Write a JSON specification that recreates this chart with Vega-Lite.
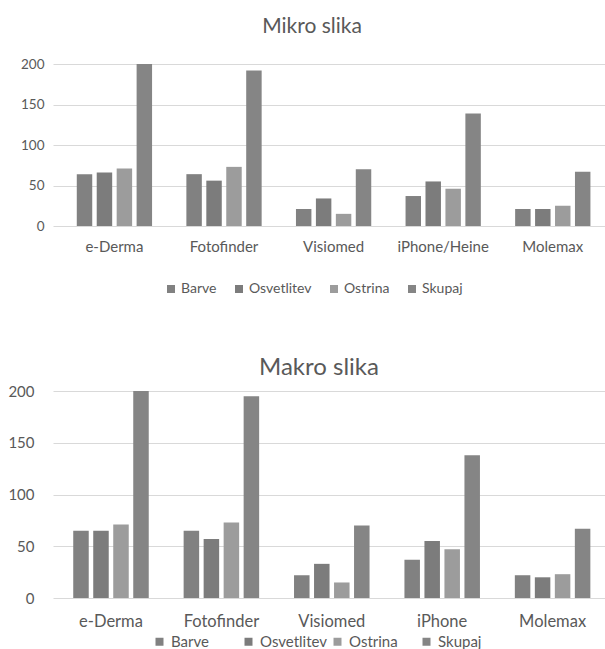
{
  "$schema": "https://vega.github.io/schema/vega-lite/v6.json",
  "padding": {"left": 0, "top": 16, "right": 0, "bottom": 0},
  "background": "white",
  "spacing": 60,
  "config": {
    "view": {"stroke": null},
    "font": "Lato",
    "axis": {"labelColor": "#595959", "labelFont": "Lato", "domain": false, "ticks": false, "title": null},
    "title": {"color": "#595959", "font": "Lato", "fontWeight": "normal", "anchor": "middle"},
    "legend": {"labelColor": "#595959", "labelFont": "Lato", "symbolType": "square", "symbolStrokeWidth": 0, "title": null}
  },
  "datasets": {
    "mikro": [
      {"naprava": "e-Derma", "kategorija": "Barve", "vrednost": 64},
      {"naprava": "e-Derma", "kategorija": "Osvetlitev", "vrednost": 66},
      {"naprava": "e-Derma", "kategorija": "Ostrina", "vrednost": 71},
      {"naprava": "e-Derma", "kategorija": "Skupaj", "vrednost": 200},
      {"naprava": "Fotofinder", "kategorija": "Barve", "vrednost": 64},
      {"naprava": "Fotofinder", "kategorija": "Osvetlitev", "vrednost": 56},
      {"naprava": "Fotofinder", "kategorija": "Ostrina", "vrednost": 73},
      {"naprava": "Fotofinder", "kategorija": "Skupaj", "vrednost": 192},
      {"naprava": "Visiomed", "kategorija": "Barve", "vrednost": 21},
      {"naprava": "Visiomed", "kategorija": "Osvetlitev", "vrednost": 34},
      {"naprava": "Visiomed", "kategorija": "Ostrina", "vrednost": 15},
      {"naprava": "Visiomed", "kategorija": "Skupaj", "vrednost": 70},
      {"naprava": "iPhone/Heine", "kategorija": "Barve", "vrednost": 37},
      {"naprava": "iPhone/Heine", "kategorija": "Osvetlitev", "vrednost": 55},
      {"naprava": "iPhone/Heine", "kategorija": "Ostrina", "vrednost": 46},
      {"naprava": "iPhone/Heine", "kategorija": "Skupaj", "vrednost": 139},
      {"naprava": "Molemax", "kategorija": "Barve", "vrednost": 21},
      {"naprava": "Molemax", "kategorija": "Osvetlitev", "vrednost": 21},
      {"naprava": "Molemax", "kategorija": "Ostrina", "vrednost": 25},
      {"naprava": "Molemax", "kategorija": "Skupaj", "vrednost": 67}
    ],
    "makro": [
      {"naprava": "e-Derma", "kategorija": "Barve", "vrednost": 65},
      {"naprava": "e-Derma", "kategorija": "Osvetlitev", "vrednost": 65},
      {"naprava": "e-Derma", "kategorija": "Ostrina", "vrednost": 71},
      {"naprava": "e-Derma", "kategorija": "Skupaj", "vrednost": 200},
      {"naprava": "Fotofinder", "kategorija": "Barve", "vrednost": 65},
      {"naprava": "Fotofinder", "kategorija": "Osvetlitev", "vrednost": 57},
      {"naprava": "Fotofinder", "kategorija": "Ostrina", "vrednost": 73},
      {"naprava": "Fotofinder", "kategorija": "Skupaj", "vrednost": 195},
      {"naprava": "Visiomed", "kategorija": "Barve", "vrednost": 22},
      {"naprava": "Visiomed", "kategorija": "Osvetlitev", "vrednost": 33},
      {"naprava": "Visiomed", "kategorija": "Ostrina", "vrednost": 15},
      {"naprava": "Visiomed", "kategorija": "Skupaj", "vrednost": 70},
      {"naprava": "iPhone", "kategorija": "Barve", "vrednost": 37},
      {"naprava": "iPhone", "kategorija": "Osvetlitev", "vrednost": 55},
      {"naprava": "iPhone", "kategorija": "Ostrina", "vrednost": 47},
      {"naprava": "iPhone", "kategorija": "Skupaj", "vrednost": 138},
      {"naprava": "Molemax", "kategorija": "Barve", "vrednost": 22},
      {"naprava": "Molemax", "kategorija": "Osvetlitev", "vrednost": 20},
      {"naprava": "Molemax", "kategorija": "Ostrina", "vrednost": 23},
      {"naprava": "Molemax", "kategorija": "Skupaj", "vrednost": 67}
    ]
  },
  "resolve": {"scale": {"color": "independent", "x": "independent", "y": "independent", "xOffset": "independent"}},
  "vconcat": [
    {
      "data": {"name": "mikro"},
      "title": {"text": "Mikro slika", "fontSize": 21, "offset": 20, "dx": -17},
      "width": 552,
      "height": 162,
      "mark": {"type": "bar"},
      "encoding": {
        "x": {
          "field": "naprava", "type": "nominal",
          "sort": ["e-Derma", "Fotofinder", "Visiomed", "iPhone/Heine", "Molemax"],
          "scale": {"paddingInner": 0.313, "paddingOuter": 0.175, "align": 0.62},
          "axis": {"labelAngle": 0, "labelFontSize": 15, "labelPadding": 13}
        },
        "xOffset": {
          "field": "kategorija", "type": "nominal",
          "sort": ["Barve", "Osvetlitev", "Ostrina", "Skupaj"],
          "scale": {"paddingInner": 0.225, "paddingOuter": 0}
        },
        "y": {
          "field": "vrednost", "type": "quantitative",
          "scale": {"domain": [0, 200], "nice": false},
          "axis": {"values": [0, 50, 100, 150, 200], "labelFontSize": 13.5, "labelPadding": 9, "gridColor": "#d9d9d9", "minExtent": 53, "maxExtent": 53}
        },
        "color": {
          "field": "kategorija", "type": "nominal",
          "sort": ["Barve", "Osvetlitev", "Ostrina", "Skupaj"],
          "scale": {"domain": ["Barve", "Osvetlitev", "Ostrina", "Skupaj"], "range": ["#818181", "#7c7c7c", "#9c9c9c", "#858585"]},
          "legend": {"orient": "none", "direction": "horizontal", "legendX": 111, "legendY": 218, "labelFontSize": 14, "symbolSize": 64, "columnPadding": 15, "labelOffset": 3}
        }
      }
    },
    {
      "data": {"name": "makro"},
      "title": {"text": "Makro  slika", "fontSize": 24, "offset": 4, "dx": -10},
      "width": 552,
      "height": 207,
      "mark": {"type": "bar"},
      "encoding": {
        "x": {
          "field": "naprava", "type": "nominal",
          "sort": ["e-Derma", "Fotofinder", "Visiomed", "iPhone", "Molemax"],
          "scale": {"paddingInner": 0.316, "paddingOuter": 0.158, "align": 0.58},
          "axis": {"labelAngle": 0, "labelFontSize": 16.5, "labelPadding": 15}
        },
        "xOffset": {
          "field": "kategorija", "type": "nominal",
          "sort": ["Barve", "Osvetlitev", "Ostrina", "Skupaj"],
          "scale": {"paddingInner": 0.225, "paddingOuter": 0}
        },
        "y": {
          "field": "vrednost", "type": "quantitative",
          "scale": {"domain": [0, 200], "nice": false},
          "axis": {"values": [0, 50, 100, 150, 200], "labelFontSize": 15, "labelPadding": 19, "gridColor": "#d9d9d9", "minExtent": 53, "maxExtent": 53}
        },
        "color": {
          "field": "kategorija", "type": "nominal",
          "sort": ["Barve", "Osvetlitev", "Ostrina", "Skupaj"],
          "scale": {"domain": ["Barve", "Osvetlitev", "Ostrina", "Skupaj"], "range": ["#818181", "#7c7c7c", "#9c9c9c", "#858585"]},
          "legend": {"orient": "none", "direction": "horizontal", "legendX": 99, "legendY": 243, "labelFontSize": 15, "symbolSize": 64, "columnPadding": 2, "gridAlign": "all", "labelOffset": 4}
        }
      }
    }
  ]
}
